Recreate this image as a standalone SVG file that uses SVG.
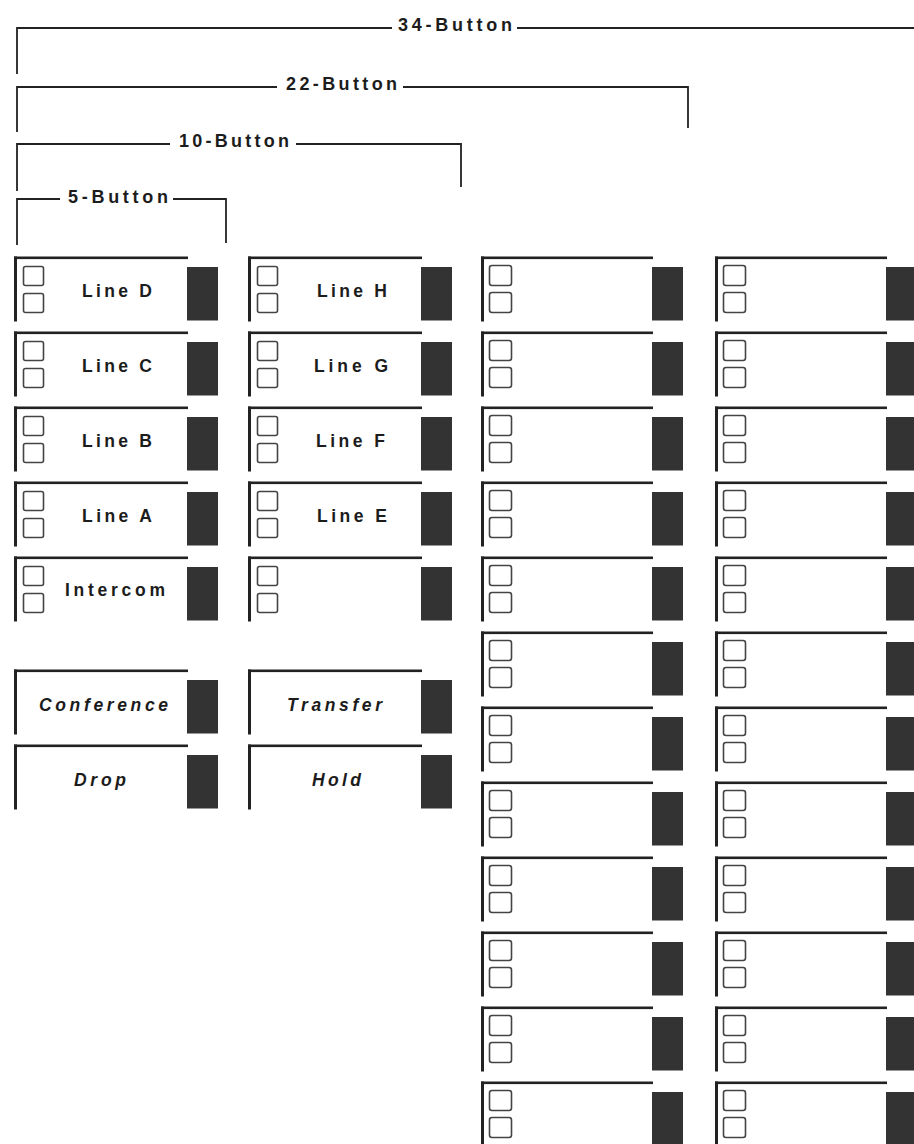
<svg xmlns="http://www.w3.org/2000/svg" xmlns:xlink="http://www.w3.org/1999/xlink" width="914" height="1144" viewBox="0 0 914 1144">
<style>
.lbl{font-family:"Liberation Sans",Arial,Helvetica,sans-serif;font-weight:bold;font-size:17.5px;fill:#1c1c1c}
.hd{font-size:18px}
.fn{font-style:italic}
.br{fill:none;stroke:#222;stroke-width:1.8}
.bar{fill:#222}
.sq{fill:none;stroke:#444;stroke-width:1.6}
.dk{fill:#333}
</style>
<defs>
<g id="frame">
<rect class="bar" x="0" y="-0.5" width="174" height="2.6"/>
<rect class="bar" x="0" y="-0.5" width="3" height="65"/>
<rect class="dk" x="173" y="10" width="31" height="53.5"/>
</g>
<g id="lamps">
<rect class="sq" x="9.5" y="9.5" width="20" height="19" rx="2"/>
<rect class="sq" x="9.5" y="36.5" width="20" height="19" rx="2"/>
</g>
<g id="frame2">
<rect class="bar" x="0" y="-0.5" width="172" height="2.6"/>
<rect class="bar" x="0" y="-0.5" width="3" height="65"/>
<rect class="dk" x="171" y="10" width="31" height="53.5"/>
</g>
<g id="lamps2">
<rect class="sq" x="8.5" y="8.5" width="22" height="20" rx="2.5"/>
<rect class="sq" x="8.5" y="35.5" width="22" height="20" rx="2.5"/>
</g>
</defs>
<rect width="914" height="1144" fill="#fff"/>
<g id="connectors">
<path class="br" d="M17 74 V28 H392 M517 28 H914"/>
<path class="br" d="M17 132 V87 H277 M403 87 H688 V128"/>
<path class="br" d="M17 191 V144 H170 M296 144 H461 V187"/>
<path class="br" d="M17 245 V199 H60 M173 199 H226 V243"/>
</g>
<g id="label-34"><text class="lbl hd" x="398" y="31" textLength="114" lengthAdjust="spacing">34-Button</text></g>
<g id="label-22"><text class="lbl hd" x="286" y="90" textLength="111" lengthAdjust="spacing">22-Button</text></g>
<g id="label-10"><text class="lbl hd" x="179" y="147" textLength="110" lengthAdjust="spacing">10-Button</text></g>
<g id="label-5"><text class="lbl hd" x="68" y="203" textLength="100" lengthAdjust="spacing">5-Button</text></g>

<g id="line-d" transform="translate(14,257)"><use href="#frame"/><use href="#lamps"/><text class="lbl" x="68" y="40" textLength="70" lengthAdjust="spacing">Line D</text></g>
<g id="line-c" transform="translate(14,332)"><use href="#frame"/><use href="#lamps"/><text class="lbl" x="68" y="40" textLength="70" lengthAdjust="spacing">Line C</text></g>
<g id="line-b" transform="translate(14,407)"><use href="#frame"/><use href="#lamps"/><text class="lbl" x="68" y="40" textLength="70" lengthAdjust="spacing">Line B</text></g>
<g id="line-a" transform="translate(14,482)"><use href="#frame"/><use href="#lamps"/><text class="lbl" x="68" y="40" textLength="70" lengthAdjust="spacing">Line A</text></g>
<g id="intercom" transform="translate(14,557)"><use href="#frame"/><use href="#lamps"/><text class="lbl" x="51" y="39" textLength="100" lengthAdjust="spacing">Intercom</text></g>

<g id="line-h" transform="translate(248,257)"><use href="#frame"/><use href="#lamps"/><text class="lbl" x="69" y="40" textLength="70" lengthAdjust="spacing">Line H</text></g>
<g id="line-g" transform="translate(248,332)"><use href="#frame"/><use href="#lamps"/><text class="lbl" x="66" y="40" textLength="74" lengthAdjust="spacing">Line G</text></g>
<g id="line-f" transform="translate(248,407)"><use href="#frame"/><use href="#lamps"/><text class="lbl" x="68" y="40" textLength="69" lengthAdjust="spacing">Line F</text></g>
<g id="line-e" transform="translate(248,482)"><use href="#frame"/><use href="#lamps"/><text class="lbl" x="69" y="40" textLength="70" lengthAdjust="spacing">Line E</text></g>
<g id="col2-r5" transform="translate(248,557)"><use href="#frame"/><use href="#lamps"/></g>

<g id="conference" transform="translate(14,670)"><use href="#frame"/><text class="lbl fn" x="25" y="41" textLength="129" lengthAdjust="spacing">Conference</text></g>
<g id="drop" transform="translate(14,745)"><use href="#frame"/><text class="lbl fn" x="60" y="41" textLength="52" lengthAdjust="spacing">Drop</text></g>
<g id="transfer" transform="translate(248,670)"><use href="#frame"/><text class="lbl fn" x="39" y="41" textLength="95" lengthAdjust="spacing">Transfer</text></g>
<g id="hold" transform="translate(248,745)"><use href="#frame"/><text class="lbl fn" x="64" y="41" textLength="49" lengthAdjust="spacing">Hold</text></g>

<g id="col3-r1" transform="translate(481,257)"><use href="#frame2"/><use href="#lamps2"/></g>
<g id="col3-r2" transform="translate(481,332)"><use href="#frame2"/><use href="#lamps2"/></g>
<g id="col3-r3" transform="translate(481,407)"><use href="#frame2"/><use href="#lamps2"/></g>
<g id="col3-r4" transform="translate(481,482)"><use href="#frame2"/><use href="#lamps2"/></g>
<g id="col3-r5" transform="translate(481,557)"><use href="#frame2"/><use href="#lamps2"/></g>
<g id="col3-r6" transform="translate(481,632)"><use href="#frame2"/><use href="#lamps2"/></g>
<g id="col3-r7" transform="translate(481,707)"><use href="#frame2"/><use href="#lamps2"/></g>
<g id="col3-r8" transform="translate(481,782)"><use href="#frame2"/><use href="#lamps2"/></g>
<g id="col3-r9" transform="translate(481,857)"><use href="#frame2"/><use href="#lamps2"/></g>
<g id="col3-r10" transform="translate(481,932)"><use href="#frame2"/><use href="#lamps2"/></g>
<g id="col3-r11" transform="translate(481,1007)"><use href="#frame2"/><use href="#lamps2"/></g>
<g id="col3-r12" transform="translate(481,1082)"><use href="#frame2"/><use href="#lamps2"/></g>

<g id="col4-r1" transform="translate(715,257)"><use href="#frame2"/><use href="#lamps2"/></g>
<g id="col4-r2" transform="translate(715,332)"><use href="#frame2"/><use href="#lamps2"/></g>
<g id="col4-r3" transform="translate(715,407)"><use href="#frame2"/><use href="#lamps2"/></g>
<g id="col4-r4" transform="translate(715,482)"><use href="#frame2"/><use href="#lamps2"/></g>
<g id="col4-r5" transform="translate(715,557)"><use href="#frame2"/><use href="#lamps2"/></g>
<g id="col4-r6" transform="translate(715,632)"><use href="#frame2"/><use href="#lamps2"/></g>
<g id="col4-r7" transform="translate(715,707)"><use href="#frame2"/><use href="#lamps2"/></g>
<g id="col4-r8" transform="translate(715,782)"><use href="#frame2"/><use href="#lamps2"/></g>
<g id="col4-r9" transform="translate(715,857)"><use href="#frame2"/><use href="#lamps2"/></g>
<g id="col4-r10" transform="translate(715,932)"><use href="#frame2"/><use href="#lamps2"/></g>
<g id="col4-r11" transform="translate(715,1007)"><use href="#frame2"/><use href="#lamps2"/></g>
<g id="col4-r12" transform="translate(715,1082)"><use href="#frame2"/><use href="#lamps2"/></g>
</svg>
